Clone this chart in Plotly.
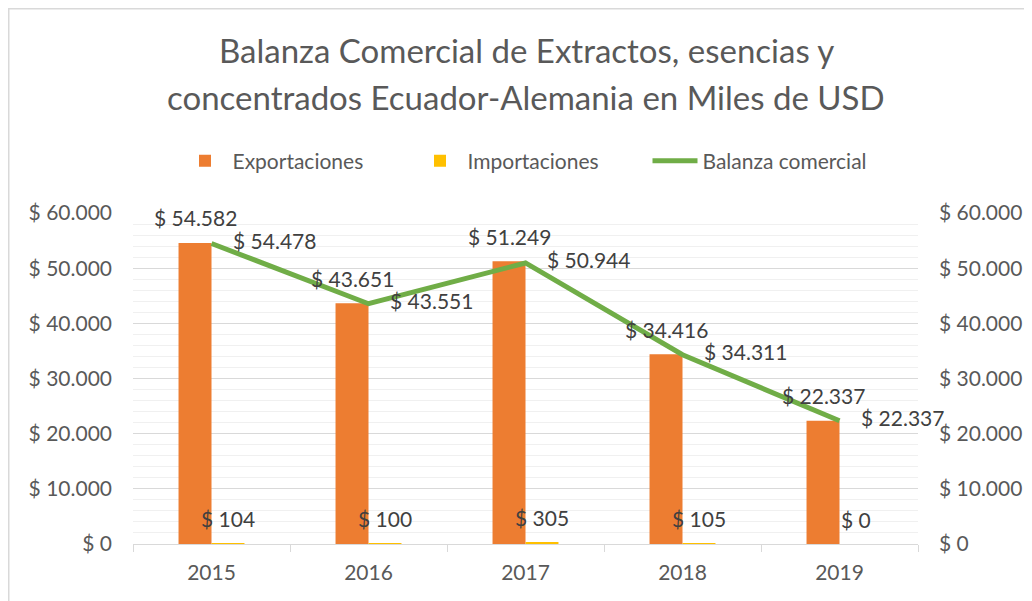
import plotly.graph_objects as go

years = ["2015", "2016", "2017", "2018", "2019"]
exportaciones = [54582, 43651, 51249, 34416, 22337]
importaciones = [104, 100, 305, 105, 0]
balanza = [54478, 43551, 50944, 34311, 22337]

title_lines = ["Balanza Comercial de Extractos, esencias y",
               "concentrados Ecuador-Alemania en Miles de USD"]

FONT = "Lato"
TXT = "#404040"
AX = "#595959"
FS = 21

# page body has an 8px margin: figure is laid out in its own pixel space
W, H = 1024, 593
L, R, T, B = 125, 114, 205, 57
PH = H - T - B
PW = W - L - R
BARGAP = 0.58
BAR_W = PW / len(years) * (1 - BARGAP) / 2


def money(v):
    return "$ " + f"{v:,.0f}".replace(",", ".")


fig = go.Figure()
fig.add_trace(go.Bar(
    x=years, y=exportaciones, name="Exportaciones", marker_color="#ED7D31",
    marker_line_width=0,
))
fig.add_trace(go.Bar(
    x=years, y=importaciones, name="Importaciones", marker_color="#FFC000",
    marker_line_width=0,
))
fig.add_trace(go.Scatter(
    x=years, y=balanza, name="Balanza comercial", mode="lines+text",
    line=dict(color="#70AD47", width=5),
    texttemplate="\u00a0\u00a0\u00a0\u00a0$ %{y:,.0f}", textposition="middle right",
    textfont=dict(family=FONT, size=FS, color=TXT), cliponaxis=False,
    yaxis="y2",
))

# bar data labels (above each bar, Excel-style); category index as x
for series, shift in [(exportaciones, -BAR_W / 2), (importaciones, BAR_W / 2)]:
    for i, v in enumerate(series):
        fig.add_annotation(x=i, y=v, xref="x", yref="y", text=money(v),
                           showarrow=False, xshift=shift, yshift=25,
                           xanchor="center", yanchor="middle",
                           font=dict(family=FONT, size=FS, color=TXT))

yax = dict(
    range=[0, 60000], tick0=0, dtick=10000, tickprefix="$ ", tickformat=",.0f",
    showgrid=True, gridcolor="#d9d9d9", gridwidth=1,
    minor=dict(dtick=2000, showgrid=True, gridcolor="#f0f0f0", gridwidth=1),
    zeroline=False, showline=False, automargin=False,
    tickfont=dict(family=FONT, size=FS, color=AX), ticklabelstandoff=20,
    fixedrange=True,
)

fig.update_layout(
    width=W, height=H,
    margin=dict(l=L, r=R, t=T, b=B, autoexpand=False),
    paper_bgcolor="white", plot_bgcolor="white",
    separators=",.",
    barmode="group", bargap=BARGAP, bargroupgap=0,
    legend=dict(
        orientation="h", x=(522 - L) / PW, xanchor="center", y=1 + (T - 153) / PH, yanchor="middle",
        font=dict(family=FONT, size=FS, color=AX), itemwidth=45,
        entrywidth=175, entrywidthmode="pixels",
    ),
    xaxis=dict(
        type="category", range=[-0.5, len(years) - 0.5],
        showline=True, linecolor="#d9d9d9", linewidth=1, automargin=False,
        ticks="outside", tickson="boundaries", ticklen=7, tickcolor="#d9d9d9",
        tickfont=dict(family=FONT, size=FS, color=AX), ticklabelstandoff=10,
        showgrid=False, fixedrange=True,
    ),
    yaxis=yax,
    yaxis2=dict(yax, overlaying="y", side="right", showgrid=False,
                minor=dict(showgrid=False)),
    showlegend=True,
)

# title (two lines, Excel-style spacing)
for line, ypix in zip(title_lines, [42, 89]):
    fig.add_annotation(text=line, xref="paper", yref="paper",
                       x=(518 - L) / PW, y=1 + (T - ypix) / PH,
                       xanchor="center", yanchor="middle", showarrow=False,
                       font=dict(family=FONT, size=33, color=AX))

# chart frame
fig.add_shape(type="rect", xref="paper", yref="paper",
              x0=-(L - 0.75) / PW, x1=1 + (R + 10) / PW,
              y0=-(B + 10) / PH, y1=1 + (T - 0.75) / PH,
              line=dict(color="#d9d9d9", width=1.5), layer="below")

fig.write_html("out.html")
